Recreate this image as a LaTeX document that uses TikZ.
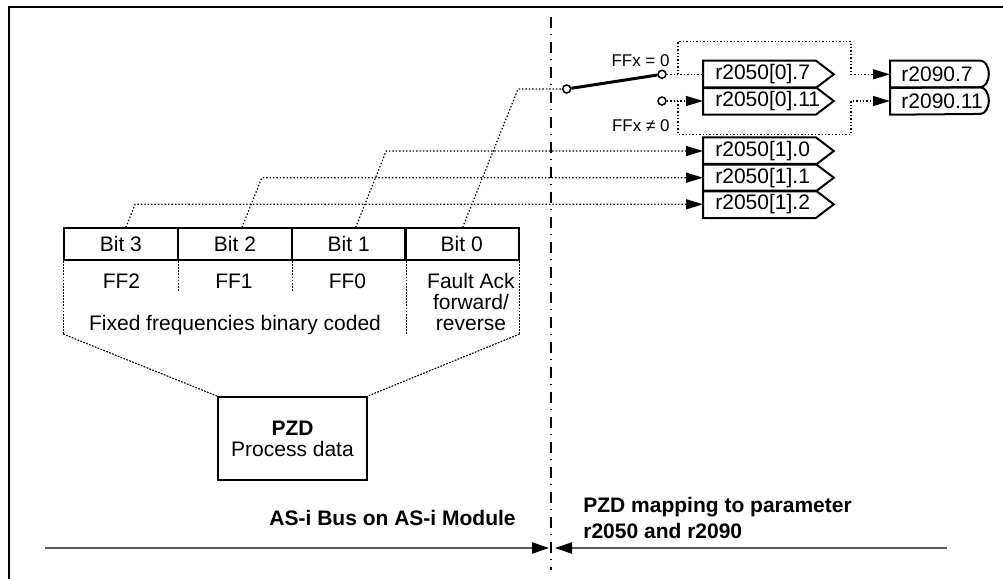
\documentclass[tikz,border=0pt]{standalone}
\usepackage{fontspec}
\setmainfont{Liberation Sans}
\usetikzlibrary{arrows.meta,calc}
\newcommand\sigtxt[1]{\makebox[44pt][l]{#1}}
\newcommand\rtxt[1]{\makebox[38pt][l]{#1}}
\tikzset{
  frame/.style={line width=1pt},
  sepline/.style={line width=0.55pt, dash pattern=on 5.5pt off 3pt on 0.6pt off 3.4pt},
  busline/.style={line width=1pt, draw=black!65, -{Triangle[length=8.5pt,width=5.5pt,color=black]}},
  thickbox/.style={draw, line width=1pt},
  dotline/.style={line width=0.6pt, dash pattern=on 0.7pt off 1pt},
  dashline/.style={line width=0.55pt, dash pattern=on 0.9pt off 0.65pt},
  tip/.style={-{Triangle[length=8.5pt,width=5pt]}},
  bitbox/.style={thickbox, minimum width=56.8pt, minimum height=15.85pt, inner sep=0pt},
  sig/.style={anchor=west, minimum height=13.33pt, inner xsep=6pt, inner ysep=0pt},
  rbox/.style={anchor=west, minimum height=13.33pt, inner xsep=5.5pt, inner ysep=0pt},
  contact/.style={circle, draw, fill=white, line width=0.75pt, inner sep=0pt, minimum size=4pt},
  blade/.style={line width=1.5pt},
  small/.style={font=\fontsize{8.5}{9}\selectfont},
  boldtxt/.style={font=\fontsize{10.5}{13}\selectfont\bfseries},
}
\begin{document}
\begin{tikzpicture}[x=0.5pt,y=-0.5pt,font=\fontsize{10.5}{10.5}\selectfont]
\useasboundingbox (0,0) rectangle (1003,579);

% frame
\draw[frame] (8,7) -- (1003,7);
\draw[frame] (9,7) -- (9,579);

% separator
\draw[sepline] (551,17) -- (551,570);

% bottom bus arrows
\draw[busline] (45,548) -- (549,548);
\draw[busline] (947,548) -- (555,548);
\node[boldtxt, anchor=base east, inner sep=0pt] (asi) at (516,525) {AS-i Bus on AS-i Module};
\node[boldtxt, anchor=north west, align=left, inner sep=0pt] (map) at (583,497) {PZD mapping to parameter\\r2050 and r2090};

% bit boxes
\node[bitbox] (b3) at (120.9,244.2) {Bit 3};
\node[bitbox] (b2) at (235,244.2) {Bit 2};
\node[bitbox] (b1) at (348.7,244.2) {Bit 1};
\node[bitbox] (b0) at (461.7,244.2) {Bit 0};

% dividers below
\draw[dashline] (b3.south west) -- ++(0,73) coordinate (fl);
\draw[dashline] (b3.south east) -- ++(0,30);
\draw[dashline] (b2.south east) -- ++(0,30);
\draw[dashline] (b1.south east) -- ++(0,73);
\draw[dashline] (b0.south east) -- ++(0,73) coordinate (fr);

% labels below bits
\node[anchor=base, inner sep=0pt] (ff2) at (121.5,288) {FF2};
\node[anchor=base, inner sep=0pt] (ff1) at (234,288) {FF1};
\node[anchor=base, inner sep=0pt] (ff0) at (347.5,288) {FF0};
\node[anchor=north, align=center, inner sep=0pt] (fack) at (471,273) {Fault Ack\\forward/\\reverse};
\node[anchor=base, inner sep=0pt] (fixed) at (235,330) {Fixed frequencies binary coded};

% PZD box
\node[thickbox, minimum width=74.5pt, minimum height=41.5pt, align=center, inner sep=0pt] (pzd) at (292.5,438.5) {\textbf{PZD}\\Process data};
\draw[dashline] (fl) -- (pzd.north west);
\draw[dashline] (fr) -- (pzd.north east);

% r2050 boxes
\node[sig] (s07) at (703,74.3) {\sigtxt{r2050[0].7}};
\node[sig] (s011) at (703,101) {\sigtxt{r2050[0].11}};
\node[sig] (s10) at (703,151) {\sigtxt{r2050[1].0}};
\node[sig] (s11) at (703,177.7) {\sigtxt{r2050[1].1}};
\node[sig] (s12) at (703,204.3) {\sigtxt{r2050[1].2}};
\foreach \n in {s07,s011,s10,s11,s12}
  \draw[thickbox] (\n.north west) -- (\n.north east) -- ([xshift=9pt]\n.east) -- (\n.south east) -- (\n.south west) -- cycle;

% r2090 boxes
\node[rbox] (r07) at (890,74.3) {\rtxt{r2090.7}};
\node[rbox] (r011) at (890,101) {\rtxt{r2090.11}};
\foreach \n in {r07,r011}
  \draw[thickbox] (\n.north west) -- ([xshift=-4.25pt]\n.north east) arc[start angle=90,end angle=-90,x radius=4.25pt,y radius=6.665pt] -- (\n.south west) -- cycle;

% switch
\node[contact] (piv) at (566.7,89) {};
\node[contact] (ct1) at (662,74.3) {};
\node[contact] (ct2) at (662,101) {};
\draw[blade] (piv) -- (ct1);
\node[small, anchor=base east, inner sep=0pt] (lbl0) at (670,66) {FFx = 0};
\node[small, anchor=base east, inner sep=0pt] (lbl1) at (670,131.7) {FFx ≠ 0};

% switch outputs
\draw[dotline] (ct1) -- (s07.west);
\draw[dotline,tip] (ct2) -- (s011.west);
\coordinate (j1) at (678,74.3);
\coordinate (j2) at (678,101);
\draw[dotline,tip] (j1) -- ++(0,-32.6) -| ([xshift=-19.5pt]r07.west) -- (r07.west);
\draw[dotline,tip] (j2) -- ++(0,33.3) -| ([xshift=-19.5pt]r011.west) -- (r011.west);

% bit lines
\draw[dotline] let \p1=([xshift=0.5pt]b0.north), \p2=(piv) in (\p1) -- ({\x1+0.4*(\y2-\y1)},\y2) -- (piv);
\draw[dotline,tip] let \p1=([xshift=3.5pt]b1.north), \p2=(s10.west) in (\p1) -- ({\x1+0.4*(\y2-\y1)},\y2) -- (\p2);
\draw[dotline,tip] let \p1=([xshift=3.5pt]b2.north), \p2=(s11.west) in (\p1) -- ({\x1+0.4*(\y2-\y1)},\y2) -- (\p2);
\draw[dotline,tip] let \p1=([xshift=2.5pt]b3.north), \p2=(s12.west) in (\p1) -- ({\x1+0.4*(\y2-\y1)},\y2) -- (\p2);
\end{tikzpicture}
\end{document}
